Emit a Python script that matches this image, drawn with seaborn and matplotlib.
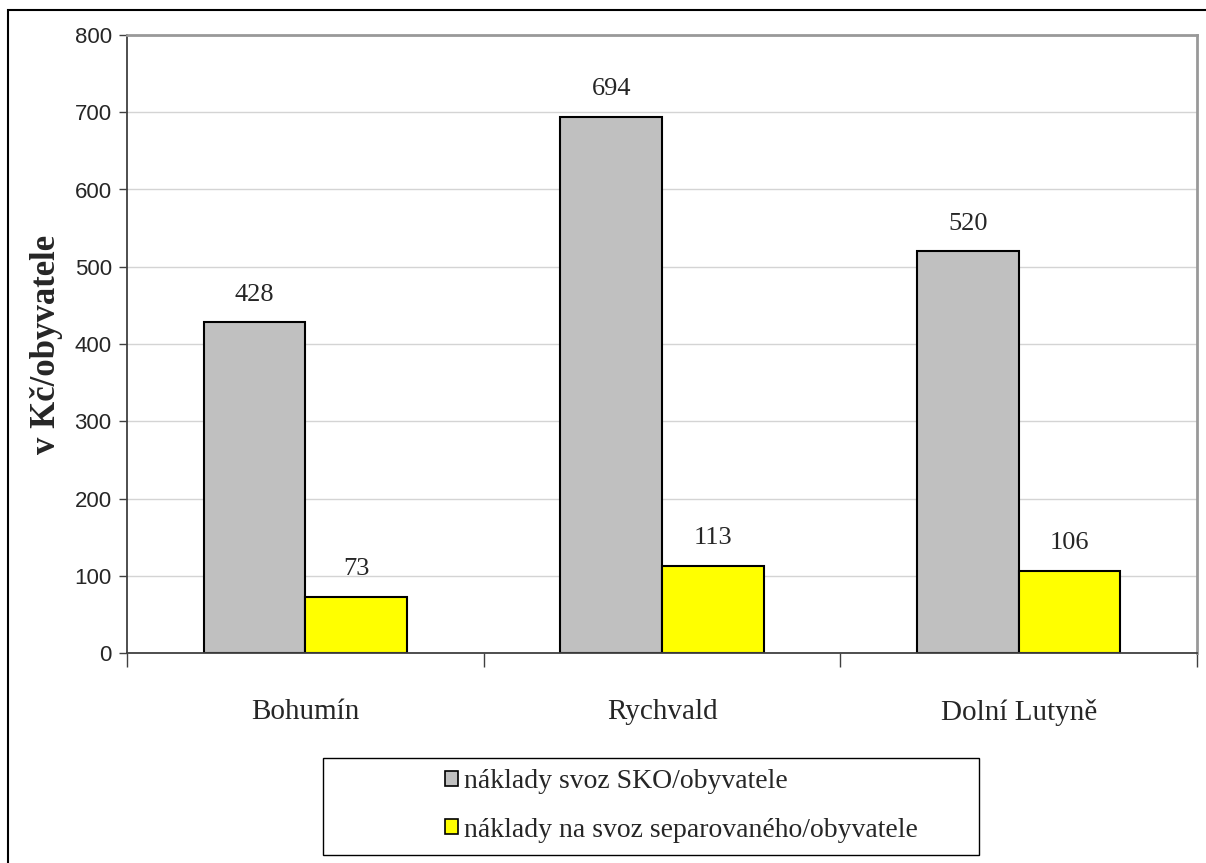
import pandas as pd
import seaborn as sns
import matplotlib.pyplot as plt
from matplotlib.patches import Rectangle

obce = ["Bohumín", "Rychvald", "Dolní Lutyně"]
sko = [428, 694, 520]
separovany = [73, 113, 106]
serie = ["náklady svoz SKO/obyvatele", "náklady na svoz separovaného/obyvatele"]
barvy = ["#C0C0C0", "#FFFF00"]

df = pd.DataFrame({
    "obec": obce * 2,
    "hodnota": sko + separovany,
    "serie": [serie[0]] * 3 + [serie[1]] * 3,
})

sns.set_style("white")
serif = ["Liberation Serif", "DejaVu Serif"]
sans = ["Liberation Sans", "DejaVu Sans"]

W, H = 1206, 863
fig = plt.figure(figsize=(W / 100, H / 100), dpi=100)
ax = fig.add_axes([127 / W, 1 - 653 / H, (1197 - 127) / W, (653 - 35) / H])

sns.barplot(data=df, x="obec", y="hodnota", hue="serie", palette=barvy, saturation=1,
            width=0.57, edgecolor="black", linewidth=1.5, ax=ax, legend=False)

ax.set_ylim(0, 800)
ax.set_xlim(-0.5, 2.5)
ax.set_yticks(range(0, 801, 100))
ax.yaxis.grid(True, color="#d4d4d4", linewidth=1)
ax.set_axisbelow(True)
ax.tick_params(axis="y", direction="out", length=6, width=1, left=True, color="#404040", pad=5)
for t in ax.get_yticklabels():
    t.set_fontfamily(sans)
    t.set_fontsize(16)
ax.set_xticks([-0.5, 0.5, 1.5, 2.5], minor=True)
ax.tick_params(axis="x", which="minor", direction="out", length=10, width=1, bottom=True, color="#404040")
ax.tick_params(axis="x", which="major", length=0, pad=33)
for t in ax.get_xticklabels():
    t.set_fontfamily(serif)
    t.set_fontsize(21)
ax.set_xlabel("")
ax.set_ylabel("v Kč/obyvatele", fontfamily=serif, fontsize=25, fontweight="bold", labelpad=8)

ax.spines["left"].set_color("#404040")
ax.spines["bottom"].set_color("#404040")
ax.spines["bottom"].set_linewidth(1.3)
ax.spines["left"].set_linewidth(1.3)
ax.spines["top"].set_color("#999999")
ax.spines["right"].set_color("#999999")
ax.spines["top"].set_linewidth(2)
ax.spines["right"].set_linewidth(2)

for cont in ax.containers:
    ax.bar_label(cont, fmt="%d", padding=12, fontfamily=serif, fontsize=19)

# legenda s vlastnim ramem
fig.patches.append(Rectangle((323 / W, 1 - 855 / H), (979 - 323) / W, (855 - 758) / H,
                             transform=fig.transFigure, fill=False, edgecolor="black", linewidth=1))
handles = [Rectangle((0, 0), 1, 1, facecolor=c, edgecolor="black", linewidth=1.2) for c in barvy]
leg = fig.legend(handles, serie, loc="center left", bbox_to_anchor=(445 / W, 1 - 806 / H),
                 prop={"family": serif, "size": 20}, frameon=False,
                 handlelength=0.45, handleheight=0.45, handletextpad=0.25, labelspacing=0.85,
                 borderpad=0, borderaxespad=0)

fig.patches.append(Rectangle((8 / W, -0.1), 1.2, 1.1 - 10 / H, transform=fig.transFigure,
                             fill=False, edgecolor="black", linewidth=1.5))

fig.savefig("out.png", dpi=100)
